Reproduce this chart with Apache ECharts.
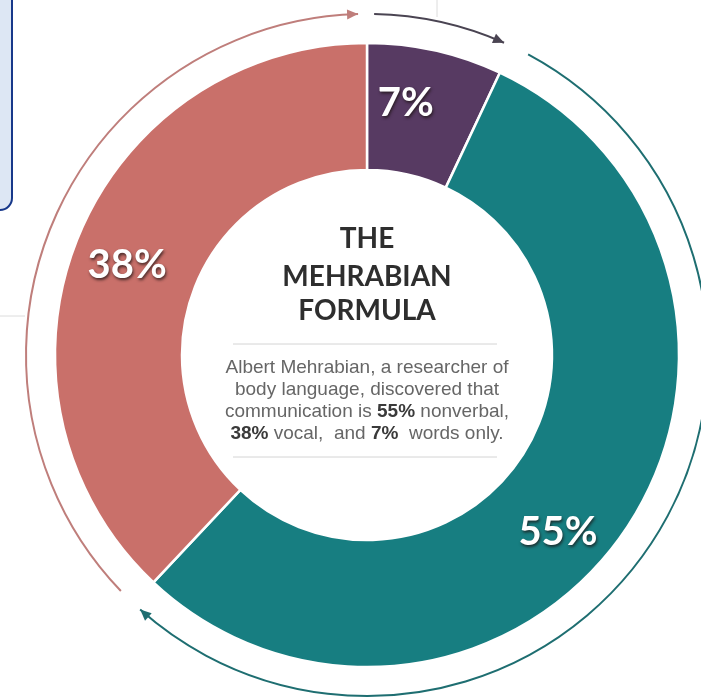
<!DOCTYPE html>
<html>
<head>
<meta charset="utf-8">
<script src="https://cdn.jsdelivr.net/npm/echarts@6/dist/echarts.min.js"></script>
<style>
html,body{margin:0;padding:0;background:#fff;}
#chart{width:701px;height:699px;}
</style>
</head>
<body>
<div id="chart"></div>
<script>
// data
var names = ['Words', 'Nonverbal', 'Vocal'];
var shares = [7, 55, 38];
var titleLines = ['THE', 'MEHRABIAN', 'FORMULA'];

// styles
var sliceColors = ['#573a62', '#177e81', '#c9706a'];
var arrowColors = ['#4a4452', '#1e6e71', '#bf7e7b'];
var labelShift = [[-16, -6], [-17, 36], [-6, 3]];
var cx = 367, cy = 355, arcR = 341;

var myChart = echarts.init(document.getElementById('chart'));

// outer arrows, one per slice, following the slice angles
var total = 0;
shares.forEach(function (v) { total += v; });
var graphics = [];
var cum = 0;
shares.forEach(function (v, i) {
	var startDeg = cum / total * 360 + (i == 0 ? 1.2 : 3);
	var endDeg = (cum + v) / total * 360 - 1.5;
	cum += v;
	var a0 = (startDeg - 90) * Math.PI / 180;
	var a1 = (endDeg - 90) * Math.PI / 180;
	graphics.push({
		type: 'arc',
		shape: { cx: cx, cy: cy, r: arcR, startAngle: a0, endAngle: a1, clockwise: true },
		style: { stroke: arrowColors[i], lineWidth: 2, fill: 'none' },
		silent: true
	});
	var px = cx + arcR * Math.cos(a1), py = cy + arcR * Math.sin(a1);
	var tx = -Math.sin(a1), ty = Math.cos(a1);
	var nx = Math.cos(a1), ny = Math.sin(a1);
	var bx = px - tx * 11, by = py - ty * 11;
	graphics.push({
		type: 'polygon',
		shape: { points: [[px, py], [bx + nx * 5, by + ny * 5], [bx - nx * 5, by - ny * 5]] },
		style: { fill: arrowColors[i] },
		silent: true
	});
});

// center text
titleLines.forEach(function (t, i) {
	graphics.push({
		type: 'text',
		style: {
			x: cx, y: [239, 277, 311][i], text: t,
			font: 'bold 28px Lato, sans-serif', fill: '#2e2e2e',
			textAlign: 'center', textVerticalAlign: 'middle',
			align: 'center', verticalAlign: 'middle'
		},
		silent: true
	});
});
[344, 457].forEach(function (y) {
	graphics.push({
		type: 'line',
		shape: { x1: 233, y1: y, x2: 497, y2: y },
		style: { stroke: '#d4d4d4', lineWidth: 1 },
		silent: true
	});
});
graphics.push({
	type: 'text',
	style: {
		x: cx, y: 357,
		text: 'Albert Mehrabian, a researcher of\nbody language, discovered that\ncommunication is {b|' + shares[1] + '%} nonverbal,\n{b|' + shares[2] + '%} vocal,  and {b|' + shares[0] + '%}  words only.',
		font: '19px "Liberation Sans", Arial, sans-serif',
		fill: '#666',
		lineHeight: 22,
		textAlign: 'center', textVerticalAlign: 'top',
		align: 'center', verticalAlign: 'top',
		rich: {
			b: { fontWeight: 'bold', fill: '#3a3a3a', fontSize: 19, lineHeight: 22, fontFamily: '"Liberation Sans", Arial, sans-serif' }
		}
	},
	silent: true
});

// faint page bits
graphics.push({ type: 'line', shape: { x1: 437, y1: 0, x2: 437, y2: 17 }, style: { stroke: '#dcdcdc', lineWidth: 1 }, silent: true });
graphics.push({ type: 'line', shape: { x1: 0, y1: 316, x2: 25, y2: 316 }, style: { stroke: '#dcdcdc', lineWidth: 1 }, silent: true });
graphics.push({
	type: 'rect',
	shape: { x: -12, y: -12, width: 24, height: 222, r: 12 },
	style: { fill: '#dde7f4', stroke: '#17388a', lineWidth: 2 },
	silent: true
});

var pieData = [];
shares.forEach(function (v, i) {
	pieData.push({ name: names[i], value: v, itemStyle: { color: sliceColors[i] } });
});

var option = {
	backgroundColor: '#fff',
	animation: false,
	graphic: graphics,
	series: [{
		type: 'pie',
		center: [cx, cy],
		radius: [185, 312],
		startAngle: 90,
		clockwise: true,
		avoidLabelOverlap: false,
		emphasis: { disabled: true },
		itemStyle: { borderColor: '#fff', borderWidth: 2.5 },
		label: {
			show: true,
			position: 'inside',
			formatter: '{c}%',
			color: '#fff',
			fontSize: 40,
			fontWeight: 'bold',
			fontFamily: 'Lato, sans-serif',
			textShadowColor: 'rgba(30,20,20,0.75)',
			textShadowBlur: 3,
			textShadowOffsetX: 1,
			textShadowOffsetY: 2
		},
		labelLine: { show: false },
		labelLayout: function (params) {
			var s = labelShift[params.dataIndex];
			return { dx: s[0], dy: s[1] };
		},
		data: pieData
	}]
};
myChart.setOption(option, true);
</script>
</body>
</html>
